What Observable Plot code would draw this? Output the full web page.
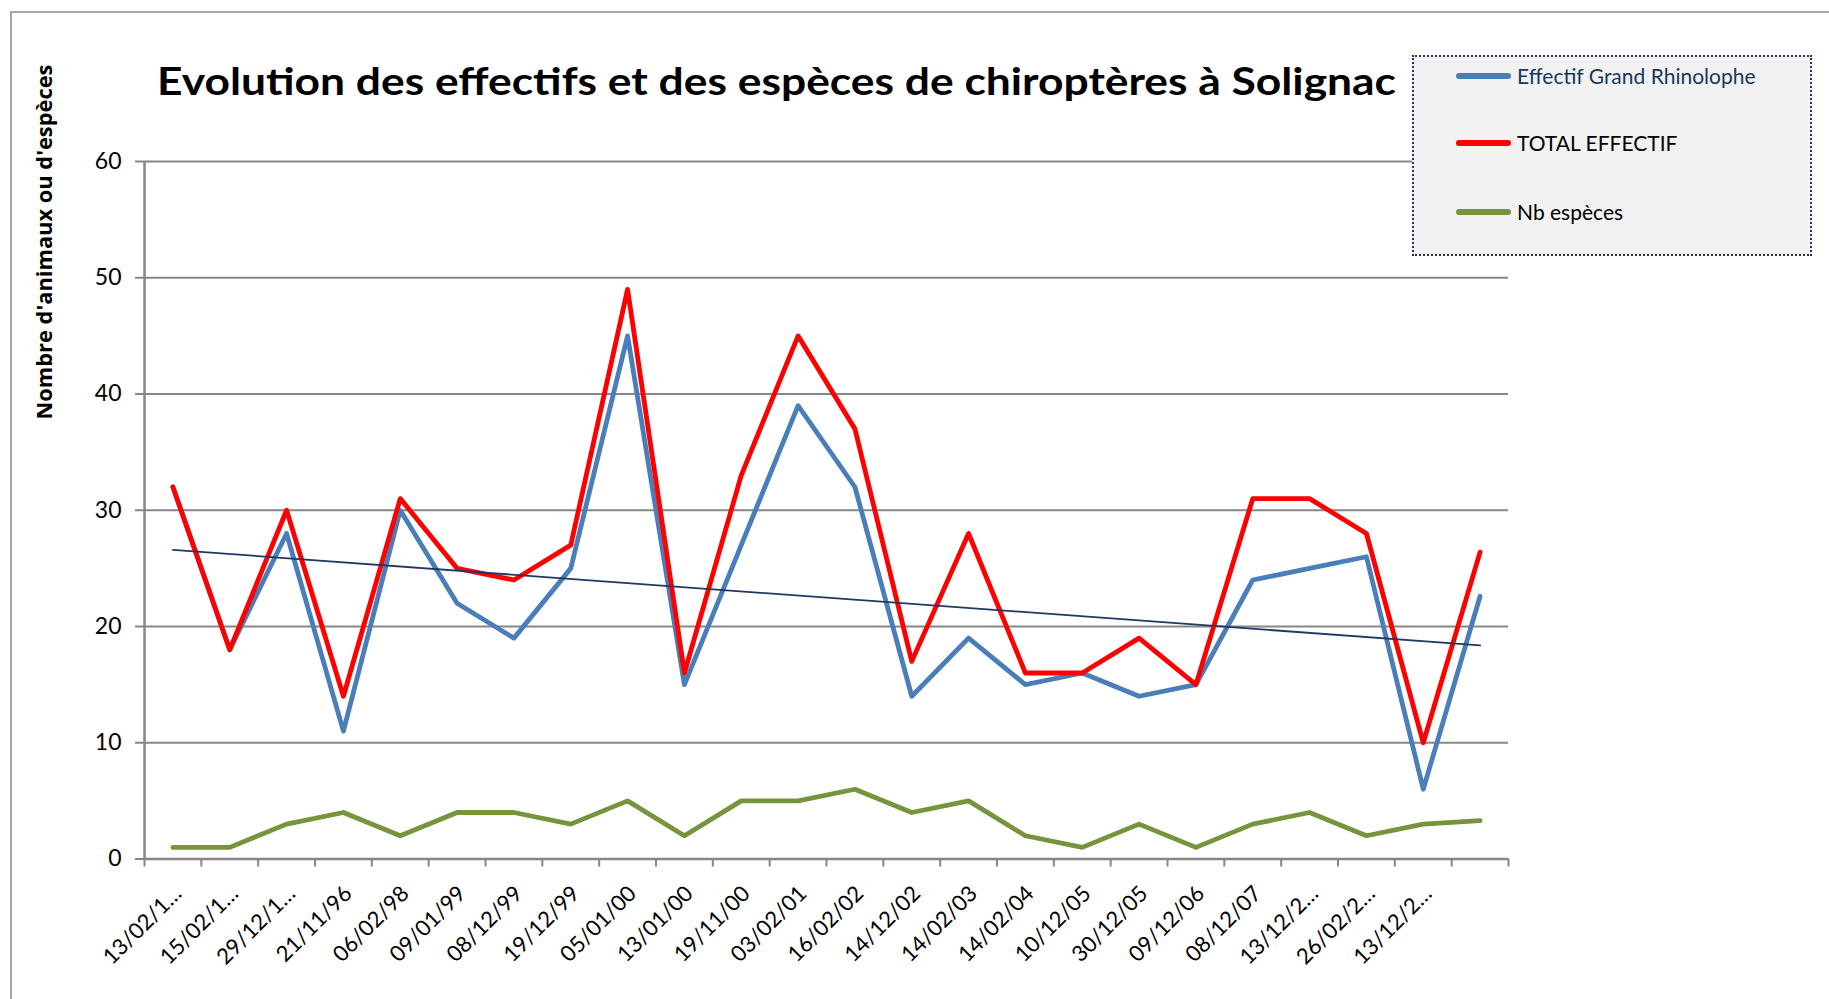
<!DOCTYPE html>
<html><head><meta charset="utf-8">
<script src="https://cdn.jsdelivr.net/npm/d3@7"></script>
<script src="https://cdn.jsdelivr.net/npm/@observablehq/plot@0.6"></script>
<style>
body{margin:0;background:#fff;font-family:Lato,"Open Sans",sans-serif;}
#wrap{position:relative;width:1829px;height:999px;overflow:hidden;background:#fff;}
#frame{position:absolute;left:10px;top:11px;width:2000px;height:1200px;border-top:2px solid #a6a6a6;border-left:2px solid #a6a6a6;}
#chart{position:absolute;left:0;top:0;}
#title{position:absolute;left:157px;top:61px;font-weight:700;font-size:38px;line-height:38px;white-space:nowrap;color:#000;transform-origin:0 50%;}
#ylab{position:absolute;left:-156px;top:231px;width:400px;height:22px;line-height:22px;text-align:center;font-family:"Open Sans",sans-serif;font-weight:700;font-size:20px;color:#000;transform:rotate(-90deg);white-space:nowrap;}
#legend{position:absolute;left:1412px;top:55px;width:400px;height:201px;background:#f2f2f2;border:2px dotted #1f3864;box-sizing:border-box;}
.item{position:absolute;left:0;height:24px;}
.sw{position:absolute;left:42px;top:9px;width:55px;height:6px;border-radius:3px;}
.lt{position:absolute;left:103px;top:0;font-size:21px;line-height:24px;white-space:nowrap;}
</style></head>
<body>
<div id="wrap">
  <div id="frame"></div>
  <div id="chart"></div>
  <div id="title">Evolution des effectifs et des espèces de chiroptères à Solignac</div>
  <div id="ylab"><span id="ylabt">Nombre d'animaux ou d'espèces</span></div>
  <div id="legend"></div>
</div>
<script>
// ---- data ----
const dates = ["13/02/1…","15/02/1…","29/12/1…","21/11/96","06/02/98","09/01/99","08/12/99","19/12/99","05/01/00","13/01/00","19/11/00","03/02/01","16/02/02","14/12/02","14/02/03","14/02/04","10/12/05","30/12/05","09/12/06","08/12/07","13/12/2…","26/02/2…","13/12/2…",""];
const grandRhinolophe = [32,18,28,11,30,22,19,25,45,15,27,39,32,14,19,15,16,14,15,24,25,26,6,22.6];
const totalEffectif   = [32,18,30,14,31,25,24,27,49,16,33,45,37,17,28,16,16,19,15,31,31,28,10,26.4];
const nbEspeces       = [1,1,3,4,2,4,4,3,5,2,5,5,6,4,5,2,1,3,1,3,4,2,3,3.3];
const yTicks = [0,10,20,30,40,50,60];
const seriesNames = ["Effectif Grand Rhinolophe","TOTAL EFFECTIF","Nb espèces"];
const seriesColors = ["#4a7ebb","#ff0000","#77933c"];

const rows = dates.map((d, k) => ({i: k + 1, label: d, blue: grandRhinolophe[k], red: totalEffectif[k], green: nbEspeces[k]}));
const bounds = d3.range(0, dates.length + 1).map(k => k + 0.5);

const grid = "#868686";
const plot = Plot.plot({
  width: 1829, height: 999,
  marginLeft: 144, marginRight: 321, marginTop: 161, marginBottom: 140.5,
  style: {fontFamily: "Lato, 'Open Sans', sans-serif", background: "transparent", color: "#000"},
  x: {type: "linear", domain: [0.5, dates.length + 0.5], axis: null},
  y: {domain: [0, 60], axis: null},
  marks: [
    Plot.gridY(yTicks.filter(t => t > 0), {stroke: grid, strokeOpacity: 1, strokeWidth: 2}),
    Plot.axisY({ticks: yTicks, tickSize: 9, tickPadding: 14, fontSize: 23, stroke: grid, strokeWidth: 2, fill: "#000", label: null}),
    Plot.ruleX([0.5], {stroke: grid, strokeWidth: 2.5}),
    Plot.ruleY([0], {stroke: grid, strokeWidth: 2.5}),
    Plot.axisX({ticks: bounds, tickSize: 8, tickFormat: () => "", stroke: grid, strokeWidth: 2, label: null}),
    Plot.text(rows, {x: "i", text: "label", frameAnchor: "bottom", dx: 5, dy: 31, rotate: -45, textAnchor: "end", lineAnchor: "middle", fontSize: 22, fill: "#000"}),
    Plot.lineY(rows, {x: "i", y: "blue", stroke: seriesColors[0], strokeWidth: 4.8}),
    Plot.lineY(rows, {x: "i", y: "red", stroke: seriesColors[1], strokeWidth: 4.8}),
    Plot.lineY(rows, {x: "i", y: "green", stroke: seriesColors[2], strokeWidth: 4.8}),
    Plot.linearRegressionY(rows, {x: "i", y: "blue", ci: 0, stroke: "#1f3864", strokeWidth: 1.8})
  ]
});
document.getElementById("chart").append(plot);

// legend
const legend = document.getElementById("legend");
const rowY = [7, 74, 143];
seriesNames.forEach((n, k) => {
  const it = document.createElement("div");
  it.className = "item";
  it.style.top = rowY[k] + "px";
  it.innerHTML = `<div class="sw" style="background:${seriesColors[k]}"></div><div class="lt" style="color:${k === 0 ? '#17375e' : '#000'}">${n}</div>`;
  legend.append(it);
});

function fit() {
  const t = document.getElementById("title");
  t.style.transform = "none";
  const w = t.getBoundingClientRect().width;
  t.style.transform = `scaleX(${1239 / w})`;
  const y = document.getElementById("ylabt");
  y.style.fontSize = "20px";
  const r = y.getBoundingClientRect();
  const yw = Math.max(r.height, r.width);
  y.style.fontSize = (20 * 355 / yw) + "px";
}
fit();
if (document.fonts) document.fonts.ready.then(fit);
</script>
</body></html>
